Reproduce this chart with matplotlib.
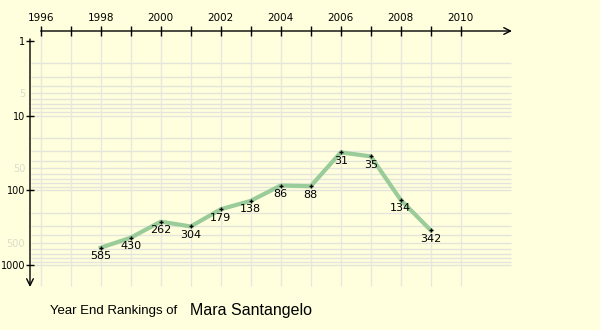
import matplotlib
matplotlib.use("Agg")
import matplotlib.pyplot as plt

years = [1998, 1999, 2000, 2001, 2002, 2003, 2004, 2005, 2006, 2007, 2008, 2009]
ranks = [585, 430, 262, 304, 179, 138, 86, 88, 31, 35, 134, 342]
year_ticks = list(range(1996, 2011))
year_labels = [str(y) if y % 2 == 0 else "" for y in year_ticks]
rank_ticks = [1, 5, 10, 50, 100, 500, 1000]
grid_ranks = [m * d for d in (1, 10, 100) for m in range(2, 11)]
player = "Mara Santangelo"

bg = "#ffffdd"
fig = plt.figure(figsize=(6, 3.3), dpi=100, facecolor=bg)
ax = fig.add_axes([30 / 600, 1 - 287 / 330, 482 / 600, 256 / 330])
ax.set_facecolor(bg)
ax.set_yscale("log")
ax.set_xlim(1995.643, 2011.71)
ax.set_ylim(1964, 0.735)

# grid
ax.hlines(grid_ranks, 1995.68, 2011.68, color="#e4e4dc", lw=1, zorder=1)
ax.vlines(year_ticks, 0.735, 1900, color="#e8e8e0", lw=1, zorder=1)

for s in ax.spines.values():
    s.set_visible(False)
# axis lines with arrows
ax.annotate("", xy=(1.0, 1.0), xytext=(10.7 / 482, 1.0), xycoords="axes fraction",
            arrowprops=dict(arrowstyle="->", lw=1, color="black", shrinkA=0, shrinkB=0,
                            mutation_scale=12))
ax.annotate("", xy=(0.0, 0.0), xytext=(0.0, 1 - 8 / 256), xycoords="axes fraction",
            arrowprops=dict(arrowstyle="->", lw=1, color="black", shrinkA=0, shrinkB=0,
                            mutation_scale=12))

ax.xaxis.tick_top()
ax.set_xticks(year_ticks)
ax.set_xticklabels(year_labels)
ax.tick_params(axis="x", direction="inout", length=7, width=1, pad=2, labelsize=7.5)
ax.set_yticks(rank_ticks)
ax.set_yticklabels([str(r) for r in rank_ticks])
ax.yaxis.set_minor_locator(matplotlib.ticker.NullLocator())
ax.tick_params(axis="y", direction="inout", length=6, width=1, pad=0.5, labelsize=7)
for t, r in zip(ax.yaxis.get_major_ticks(), rank_ticks):
    if str(r)[0] == "5":
        t.tick1line.set_visible(False)
        t.label1.set_color("#dcdccc")

ax.plot(years, ranks, color="#99cc99", lw=3, zorder=3, solid_joinstyle="round")
ax.plot(years, ranks, ls="none", marker="+", ms=3.5, mew=1, color="black", zorder=4)
for x, y in zip(years, ranks):
    ax.annotate(str(y), (x, y), xytext=(0, -2.5), textcoords="offset points",
                ha="center", va="top", fontsize=8)

fig.text(50 / 600, 1 - 311 / 330, "Year End Rankings of", fontsize=9.5,
         family="Liberation Sans", va="center", ha="left")
fig.text(190 / 600, 1 - 310 / 330, player, fontsize=11.5,
         family="Liberation Sans", va="center", ha="left")

fig.savefig("out.png", dpi=100, facecolor=bg)
